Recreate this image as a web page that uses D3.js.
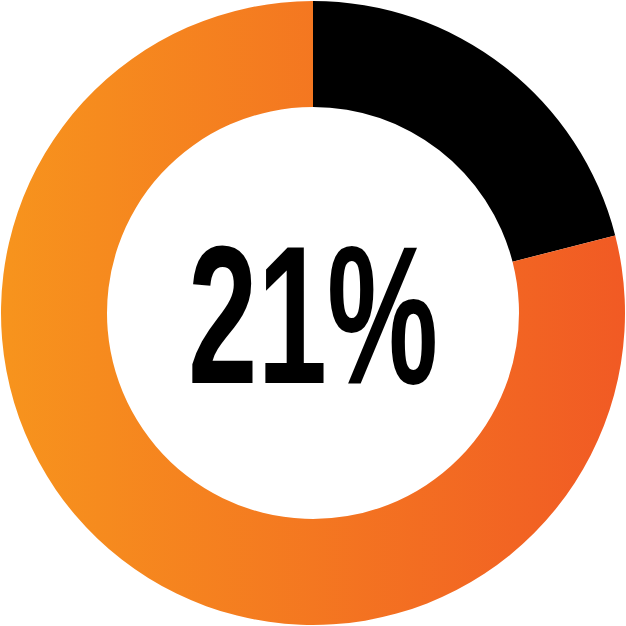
<!DOCTYPE html>
<html lang="en">
<head>
    <meta charset="UTF-8">
    <title>21%</title>
    <style>
        html, body { margin: 0; padding: 0; background: #fff; }
        svg { display: block; }
    </style>
    <script src="https://d3js.org/d3.v7.min.js"></script>
</head>
<body>
    <svg id="chart" width="626" height="626"></svg>
    <script>
        // valeurs du graphique
        var labels = ['done', 'rest'];
        var values = [21, 79];
        var colors = ['#000000', 'url(#grad)'];

        var width = 626, height = 626;
        var outerR = 312, innerR = 206;

        var svg = d3.select('#chart');

        // dégradé horizontal orange
        var grad = svg.append('defs').append('linearGradient')
            .attr('id', 'grad')
            .attr('gradientUnits', 'userSpaceOnUse')
            .attr('x1', -outerR).attr('y1', 0)
            .attr('x2', outerR).attr('y2', 0);
        grad.append('stop').attr('offset', '0%').attr('stop-color', '#F7941D');
        grad.append('stop').attr('offset', '100%').attr('stop-color', '#F15A24');

        var g = svg.append('g')
            .attr('transform', 'translate(' + width / 2 + ',' + height / 2 + ')');

        var pie = d3.pie().sort(null).value(function(d) { return d; });
        var arc = d3.arc().innerRadius(innerR).outerRadius(outerR);

        g.selectAll('path')
            .data(pie(values))
            .enter().append('path')
            .attr('d', arc)
            .attr('fill', function(d, i) { return colors[i]; });

        // texte central
        g.append('text')
            .attr('x', 0)
            .attr('y', 70)
            .attr('text-anchor', 'middle')
            .attr('font-family', '"Liberation Sans", Arial, sans-serif')
            .attr('font-weight', 'bold')
            .attr('font-size', 196)
            .attr('textLength', 250)
            .attr('lengthAdjust', 'spacingAndGlyphs')
            .attr('fill', '#000')
            .text(values[0] + '%');
    </script>
</body>
</html>
